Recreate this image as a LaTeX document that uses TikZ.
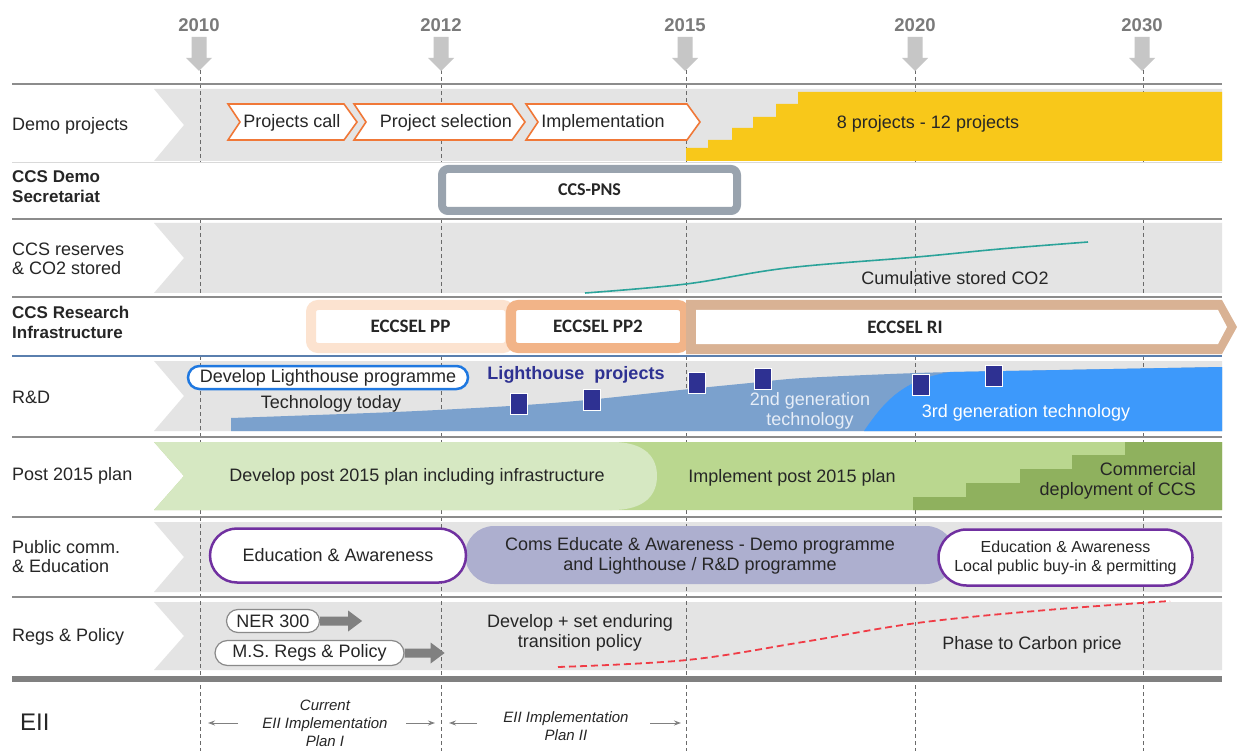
\documentclass[tikz,border=0pt]{standalone}
\usepackage{fontspec}
\setmainfont{Liberation Sans}
\newfontfamily\calib{Carlito}
\usetikzlibrary{shapes.misc,arrows.meta,calc}

\definecolor{bandgray}{HTML}{E4E4E4}
\definecolor{sepgray}{HTML}{8C8C8C}
\definecolor{yeargray}{HTML}{7A7A7A}
\definecolor{arrowgray}{HTML}{C6C6C6}
\definecolor{dashgray}{HTML}{6A6A6A}
\definecolor{ink}{HTML}{262626}
\definecolor{chevorange}{HTML}{F07838}
\definecolor{gold}{HTML}{F8C81A}
\definecolor{pnsgray}{HTML}{99A3AE}
\definecolor{cteal}{HTML}{2BA39A}
\definecolor{peachlight}{HTML}{FCE3D0}
\definecolor{peachdark}{HTML}{F2B488}
\definecolor{ctan}{HTML}{D9B294}
\definecolor{steelline}{HTML}{5A7FAE}
\definecolor{techblue}{HTML}{7BA1CD}
\definecolor{brightblue}{HTML}{3D99FB}
\definecolor{navy}{HTML}{2E3192}
\definecolor{pillblue}{HTML}{1F78E0}
\definecolor{greenlight}{HTML}{D6E8C2}
\definecolor{greenmid}{HTML}{BAD78F}
\definecolor{greendark}{HTML}{8FB15E}
\definecolor{cpurple}{HTML}{7030A0}
\definecolor{lavender}{HTML}{ADAFCF}
\definecolor{policyred}{HTML}{F03C46}
\definecolor{midgray}{HTML}{808080}
\definecolor{pillgray}{HTML}{8A8A8A}
\definecolor{paletext}{HTML}{E6EDF7}

\begin{document}
\begin{tikzpicture}[x=1pt,y=-1pt,
  every node/.style={inner sep=0pt, text=ink},
  txt/.style={font=\fontsize{18}{20}\selectfont},
  lab/.style={anchor=west, align=left, font=\fontsize{18}{19}\selectfont},
  labb/.style={anchor=west, align=left, font=\bfseries\fontsize{17}{20}\selectfont},
  yearlab/.style={font=\bfseries\fontsize{18.5}{18.5}\selectfont, text=yeargray},
  band/.style={fill=bandgray},
  sep/.style={draw=sepgray, line width=2.2pt},
  vdash/.style={draw=dashgray, line width=0.9pt, dash pattern=on 4pt off 3pt},
  chev/.style={draw=chevorange, fill=white, line width=1.6pt},
  eccsel/.style={line width=10pt, rounded corners=7pt, fill=white,
    font=\calib\bfseries\fontsize{19}{19}\selectfont, minimum height=43pt},
  lhsq/.style={fill=navy, draw=white, line width=1pt, minimum width=17pt, minimum height=21pt},
  eiiarrow/.style={draw=midgray, line width=1pt, -{Stealth[length=7pt,width=5pt]}},
  eiitext/.style={align=center, font=\itshape\fontsize{15}{18}\selectfont}
]
\useasboundingbox (0,0) rectangle (1237,751);
\fill[white] (0,0) rectangle (1237,751);

% grey row bands with the chevron notch of the label column
\foreach \t/\b in {89/161,223/293,361/431,522/592,602/670}
  \fill[band] (154,\t) -- (1222,\t) -- (1222,\b) -- (154,\b) -- (184,{(\t+\b)/2}) -- cycle;

% dashed year guides
\foreach \x in {200,441,686,915,1143} {
  \draw[vdash] (\x,70) -- (\x,163);
  \draw[vdash] (\x,219) -- (\x,297);
  \draw[vdash] (\x,356) -- (\x,751);
}

% year markers
\foreach \x/\yr in {199/2010,441/2012,685/2015,915/2020,1142/2030} {
  \fill[arrowgray] (\x-7.5,37) -- (\x+7.5,37) -- (\x+7.5,58) -- (\x+13,58) -- (\x,71)
    -- (\x-13,58) -- (\x-7.5,58) -- cycle;
  \node[yearlab] (y\yr) at (\x,25) {\yr};
}

% ---------- Post 2015 plan band (hides the guides) ----------
\fill[greenmid] (154,442) -- (1222,442) -- (1222,510) -- (154,510) -- (184,476) -- cycle;
\fill[greenlight] (154,442) -- (612,442) .. controls (646,442) and (657,458) .. (657,476)
  .. controls (657,494) and (646,510) .. (612,510) -- (154,510) -- (184,476) -- cycle;
\fill[greendark] (913,510) -- (913,497) -- (966,497) -- (966,483) -- (1020,483) -- (1020,469)
  -- (1072,469) -- (1072,455) -- (1125,455) -- (1125,442) -- (1222,442) -- (1222,510) -- cycle;
\node[txt] (devpost) at (417,477) {Develop post 2015 plan including infrastructure};
\node[txt] (imppost) at (792,478) {Implement post 2015 plan};
\node[txt, anchor=east, align=right] (commdep) at (1196,481) {Commercial\\deployment of CCS};

% row separators
\draw[sep] (12,84) -- (1222,84);
\draw[draw=black!15, line width=1pt] (12,163) -- (1222,163);
\draw[sep, line width=1.8pt] (12,219) -- (1222,219);
\draw[sep, line width=1.8pt] (12,297) -- (1222,297);
\draw[draw=steelline, line width=2.5pt] (12,356) -- (1222,356);
\draw[sep] (12,437) -- (1222,437);
\draw[sep] (12,517) -- (1222,517);
\draw[sep] (12,597) -- (1222,597);
\draw[draw=midgray, line width=6pt] (12,679) -- (1222,679);

% row labels
\node[lab] (lab-demo) at (12,126) {Demo projects};
\node[labb] (lab-sec) at (12,187) {CCS Demo\\Secretariat};
\node[lab] (lab-res) at (12,259) {CCS reserves\\\& CO2 stored};
\node[labb] (lab-ri) at (12,322) {CCS Research\\Infrastructure};
\node[lab] (lab-rd) at (12,397) {R\&D};
\node[lab] (lab-post) at (12,476) {Post 2015 plan};
\node[lab] (lab-pub) at (12,557) {Public comm.\\\& Education};
\node[lab] (lab-regs) at (12,637) {Regs \& Policy};
\node[lab, font=\fontsize{24}{24}\selectfont] (lab-eii) at (20,722) {EII};

% ---------- Demo projects ----------
\draw[chev] (228,104) -- (344,104) -- (357,122) -- (344,140) -- (228,140) -- (240,122) -- cycle;
\draw[chev] (354,104) -- (512,104) -- (525,122) -- (512,140) -- (354,140) -- (366,122) -- cycle;
\draw[chev] (526,104) -- (687,104) -- (700,122) -- (687,140) -- (526,140) -- (538,122) -- cycle;
\node[txt] (pcall) at (292,123) {Projects call};
\node[txt] (psel) at (446,123) {Project selection};
\node[txt] (pimp) at (603,123) {Implementation};
\fill[gold] (686,161) -- (686,148) -- (708,148) -- (708,140) -- (732,140) -- (732,128)
  -- (753,128) -- (753,117) -- (776,117) -- (776,104) -- (798,104) -- (798,92)
  -- (1222,92) -- (1222,161) -- cycle;
\node[txt] (nproj) at (928,124) {8 projects - 12 projects};

% ---------- CCS Demo Secretariat ----------
\node[draw=pnsgray, line width=8pt, rounded corners=6pt, fill=white,
  minimum width=295pt, minimum height=42pt,
  font=\calib\bfseries\fontsize{18}{18}\selectfont] (pns) at (589.5,190) {CCS-PNS};

% ---------- CCS reserves ----------
\draw[cteal, line width=1.6pt] plot[smooth, tension=0.6] coordinates
  {(585,293) (686,284) (787,268) (917,257) (1000,249) (1088,242)};
\node[txt] (cumco2) at (955,278) {Cumulative stored CO2};

% ---------- CCS Research Infrastructure ----------
\node[eccsel, draw=peachlight, minimum width=199pt] (pp) at (410.5,326.5) {ECCSEL PP};
\node[eccsel, draw=peachdark, minimum width=174pt] (pp2) at (598,326.5) {ECCSEL PP2};
\fill[ctan] (686,300) -- (1222,300) -- (1237,327) -- (1222,354) -- (686,354) -- cycle;
\fill[white] (696,310) -- (1218,310) -- (1227,327) -- (1218,344) -- (696,344) -- cycle;
\node[font=\calib\bfseries\fontsize{19}{19}\selectfont] (ri) at (905,327) {ECCSEL RI};

% ---------- R&D ----------
\fill[techblue] (231,431) -- plot[smooth, tension=0.5] coordinates
  {(231,418) (395,412) (510,406) (587,400) (690,389) (750,383) (803,378) (917,373) (1006,371) (1222,367)}
  -- (1222,431) -- cycle;
\fill[brightblue] (864,431) .. controls (884,402) and (902,380) .. (950,372)
  -- plot[smooth, tension=0.5] coordinates {(950,372) (1006,371) (1222,367)}
  -- (1222,431) -- cycle;
\node[rounded rectangle, draw=pillblue, line width=2.5pt, fill=white,
  minimum width=280pt, minimum height=23pt, txt] (dlp) at (328,377.5) {Develop Lighthouse programme};
\node[txt] (techtoday) at (331,404) {Technology today};
\node[font=\bfseries\fontsize{18}{18}\selectfont, text=navy] (lhp) at (576,375) {Lighthouse\ \ projects};
\foreach \cx/\cy [count=\i] in {519/404,592/400,697/383,763/379,921/385,994/376}
  \node[lhsq] (sq\i) at (\cx,\cy) {};
\node[txt, align=center, text=paletext] (gen2) at (810,411) {2nd generation\\technology};
\node[txt, text=white] (gen3) at (1026,413) {3rd generation technology};

% ---------- Public comm. & Education ----------
\node[rounded rectangle, fill=lavender, minimum width=490pt, minimum height=58pt] (comsbg) at (710,555) {};
\node[txt, align=center] (coms) at (700,556) {Coms Educate \& Awareness - Demo programme\\and Lighthouse / R\&D programme};
\node[rounded rectangle, draw=cpurple, line width=2.5pt, fill=white,
  minimum width=256pt, minimum height=54pt, txt] (edu1) at (338,555.5) {Education \& Awareness};
\node[rounded rectangle, draw=cpurple, line width=2.5pt, fill=white,
  minimum width=254pt, minimum height=56pt, align=center,
  font=\fontsize{16}{19}\selectfont] (edu2) at (1065.5,557.5)
  {Education \& Awareness\\Local public buy-in \& permitting};

% ---------- Regs & Policy ----------
\node[rounded rectangle, draw=pillgray, line width=1.2pt, fill=white,
  minimum width=93pt, minimum height=23pt, txt] (ner) at (273,621) {NER 300};
\fill[midgray] ($(ner.east)+(0,-4.5)$) -- ++(28,0) -- ++(0,-6) -- ++(14,10.5)
  -- ++(-14,10.5) -- ++(0,-6) -- ++(-28,0) -- cycle;
\node[rounded rectangle, draw=pillgray, line width=1.2pt, fill=white,
  minimum width=189pt, minimum height=25pt, txt] (msregs) at (309.5,653) {M.S. Regs \& Policy};
\fill[midgray] ($(msregs.east)+(0,-4.5)$) -- ++(26,0) -- ++(0,-6) -- ++(14,10.5)
  -- ++(-14,10.5) -- ++(0,-6) -- ++(-26,0) -- cycle;
\node[txt, align=center] (enduring) at (580,633) {Develop + set enduring\\transition policy};
\draw[policyred, line width=1.8pt, dash pattern=on 7pt off 4pt] plot[smooth, tension=0.6] coordinates
  {(558,667) (687,660) (803,642) (917,623) (1047,610) (1170,601)};
\node[txt] (carbon) at (1032,645) {Phase to Carbon price};

% ---------- EII ----------
\node[eiitext] (eii1) at (325,723) {Current\\EII Implementation\\Plan I};
\node[eiitext] (eii2) at (566,726) {EII Implementation\\Plan II};
\coordinate (e1a) at (238,723); \coordinate (e1b) at (208,723);
\coordinate (e2a) at (406,723); \coordinate (e2b) at (435,723);
\coordinate (e3a) at (477,723); \coordinate (e3b) at (449,723);
\coordinate (e4a) at (650,723); \coordinate (e4b) at (681,723);
\draw[eiiarrow] (e1a) -- (e1b);
\draw[eiiarrow] (e2a) -- (e2b);
\draw[eiiarrow] (e3a) -- (e3b);
\draw[eiiarrow] (e4a) -- (e4b);
\end{tikzpicture}
\end{document}
